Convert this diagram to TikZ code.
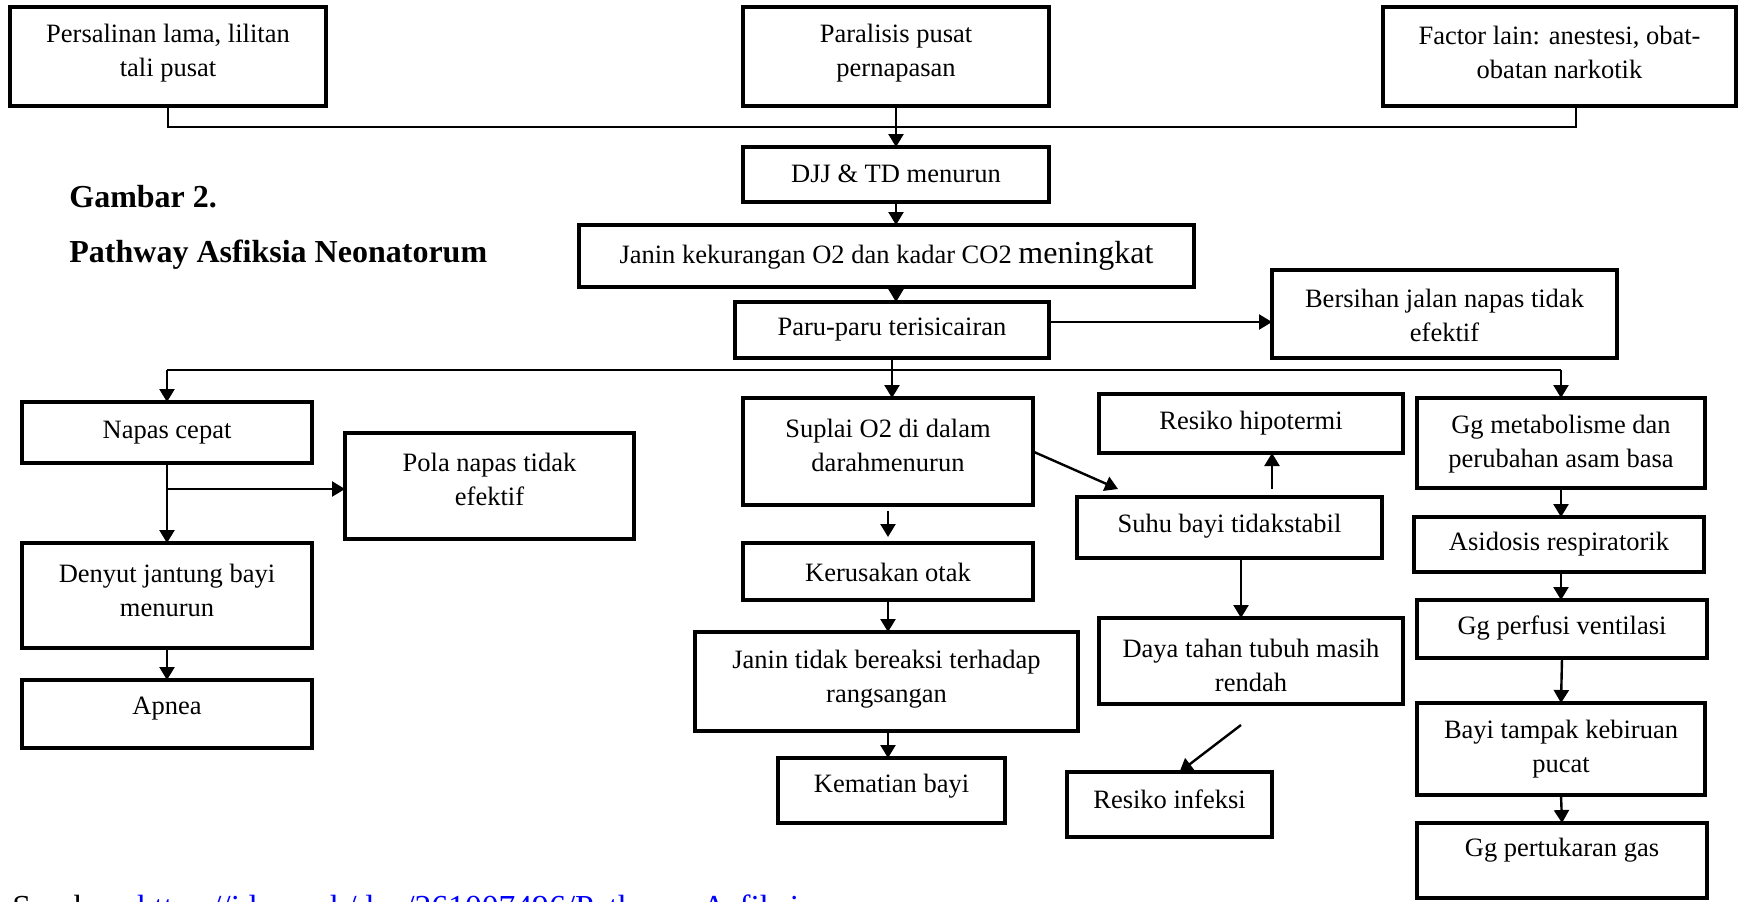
\documentclass[tikz,border=0pt]{standalone}
\usepackage{fontspec}
\setmainfont{Liberation Serif}
\usetikzlibrary{arrows.meta,calc}
\definecolor{linkblue}{RGB}{0,0,255}
\tikzset{
  boxshape/.style={draw, line width=2pt, inner sep=0pt, outer sep=0pt},
  boxtext/.style={align=center, inner sep=0pt, font=\fontsize{13.25}{17}\selectfont},
  arr/.style={line width=1.2pt, -{Triangle[length=6.5pt,width=7.5pt]}},
  bus/.style={line width=0.9pt},
  titletext/.style={anchor=base west, inner sep=0pt, font=\fontsize{16}{19}\selectfont\bfseries},
  srctext/.style={anchor=base west, inner sep=0pt, font=\fontsize{16.8}{19}\selectfont},
}
\newcommand\bx[7]{%
  \node[boxshape, minimum width={(#4-#2)*0.5pt}, minimum height={(#5-#3)*0.5pt}] (#1) at ({(#2+#4)/2},{(#3+#5)/2}) {};
  \node[boxtext] (#1-t) at ({(#2+#4)/2},#6) {#7};
}
\begin{document}
\begin{tikzpicture}[x=0.5pt,y=-0.5pt]
\clip (0,0) rectangle (1739,901);
\fill[white] (0,0) rectangle (1739,901);

% top row
\bx{b1}{10}{7}{326}{106}{53}{Persalinan lama, lilitan\\tali pusat}
\bx{b2}{743}{7}{1049}{106}{53}{Paralisis pusat\\pernapasan}
\bx{b3}{1383}{7}{1736}{106}{52}{Factor lain: anestesi, obat-\\obatan narkotik}

% title
\node[titletext] (g1) at (69,207) {Gambar 2.};
\node[titletext] (g2) at (69,262) {Pathway Asfiksia Neonatorum};

% central column
\bx{djj}{743}{147}{1049}{202}{174}{DJJ \& TD menurun}
\bx{jan}{579}{225}{1194}{287}{256}{Janin kekurangan O2 dan kadar CO2 {\fontsize{16}{17}\selectfont meningkat}}
\bx{paru}{735}{302}{1049}{358}{330}{Paru-paru terisicairan}
\bx{bers}{1272}{270}{1617}{358}{315}{Bersihan jalan napas tidak\\efektif}

% left column
\bx{napas}{22}{402}{312}{463}{433}{Napas cepat}
\bx{pola}{345}{433}{634}{539}{479}{Pola napas tidak\\efektif}
\bx{deny}{22}{543}{312}{648}{590}{Denyut jantung bayi\\menurun}
\bx{apnea}{22}{680}{312}{748}{709}{Apnea}

% middle column
\bx{sup}{743}{398}{1033}{505}{445}{Suplai O2 di dalam\\darahmenurun}
\bx{ker}{743}{543}{1033}{600}{572}{Kerusakan otak}
\bx{jtb}{695}{632}{1078}{731}{679}{Janin tidak bereaksi terhadap\\rangsangan}
\bx{mati}{778}{758}{1005}{823}{786}{Kematian bayi}

% right-middle column
\bx{hipo}{1099}{394}{1403}{453}{423}{Resiko hipotermi}
\bx{suhu}{1077}{497}{1382}{558}{526}{Suhu bayi tidakstabil}
\bx{daya}{1099}{618}{1403}{704}{665}{Daya tahan tubuh masih\\rendah}
\bx{inf}{1067}{772}{1272}{837}{799}{Resiko infeksi}

% right column
\bx{ggm}{1417}{398}{1705}{488}{444}{Gg metabolisme dan\\perubahan asam basa}
\bx{asid}{1414}{517}{1704}{572}{544}{Asidosis respiratorik}
\bx{perf}{1417}{600}{1707}{658}{628}{Gg perfusi ventilasi}
\bx{bayi}{1417}{703}{1705}{795}{749}{Bayi tampak kebiruan\\pucat}
\bx{gas}{1417}{823}{1707}{898}{850}{Gg pertukaran gas}

% source line (cut off at the bottom edge, as in the reference)
\node[srctext] (src) at (12,918) {Sumber:};
\node[srctext, text=linkblue] (srcl) at (137,918) {https://idoc.pub/doc/261007496/Pathway-Asfiksia};

% coordinates
\coordinate (j1) at (896,127);
\coordinate (b3d) at (1576,106);
\coordinate (j2) at (893,370);
\coordinate (j3) at (167,489);
\coordinate (suhuin) at (1118,489);
\coordinate (hipoin) at (1272,489);
\coordinate (sd) at (1241,558);
\coordinate (ds) at (1241,725);

% connectors top
\draw[bus] (b1.south) |- (j1);
\draw[bus] (j1) -| (b3d);
\draw[arr] (b2.south) -- (djj.north);
\draw[arr] (djj.south) -- (djj.south |- jan.north);
\draw[arr] (djj.south |- jan.south) -- (djj.south |- paru.north);
\draw[arr] ([yshift=4pt]paru.east) -- ([yshift=4pt]paru.east -| bers.west);

% second bus
\draw[arr] (paru.south) -- (paru.south |- sup.north);
\draw[bus] (j2) -- (j2 -| napas.north);
\draw[arr] (j2 -| napas.north) -- (napas.north);
\draw[bus] (j2) -- (j2 -| ggm.north);
\draw[arr] (j2 -| ggm.north) -- (ggm.north);

% left
\draw[arr] (napas.south) -- (deny.north);
\draw[arr] (j3) -- (j3 -| pola.west);
\draw[arr] (deny.south) -- (apnea.north);

% middle
\draw[arr] ([yshift=-3pt]sup.south) -- ([yshift=3pt]ker.north);
\draw[arr] (ker.south) -- (ker.south |- jtb.north);
\draw[arr] (ker.south |- jtb.south) -- (ker.south |- mati.north);
\draw[arr] (sup.east) -- (suhuin);
\draw[arr] (hipoin) -- (hipoin |- hipo.south);
\draw[arr] (sd) -- (sd |- daya.north);
\draw[arr] (ds) -- ([xshift=5pt]inf.north);

% right column
\draw[arr] (ggm.south) -- (ggm.south |- asid.north);
\draw[arr] (ggm.south |- asid.south) -- (ggm.south |- perf.north);
\draw[arr] (perf.south) -- (bayi.north);
\draw[arr] (bayi.south) -- (gas.north);
\end{tikzpicture}
\end{document}
